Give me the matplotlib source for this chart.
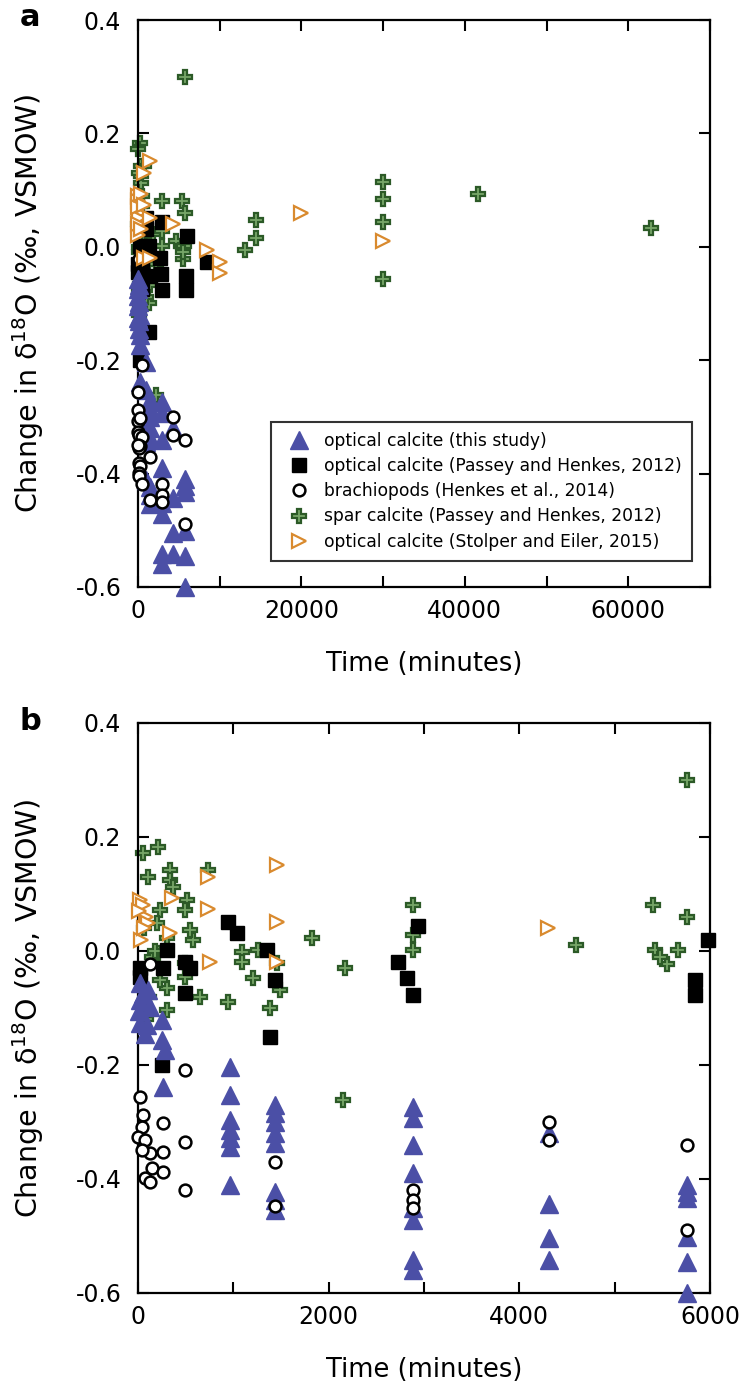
import matplotlib
matplotlib.use("Agg")
import matplotlib.pyplot as plt
from matplotlib.ticker import MultipleLocator, FuncFormatter

plt.rcParams['font.family'] = ['DejaVu Sans']

# optical calcite (this study)
tri_x = [20, 105, 20, 126, 20, 248, 73, 248, 283, 266, 50, 10, 90,
         965, 965, 965, 965, 965, 965, 965,
         1437, 1437, 1437, 1437, 1437, 1437, 1437, 1437,
         2888, 2888, 2888, 2888, 2888, 2888, 2888, 2888,
         4315, 4315, 4315, 4315,
         5755, 5755, 5755, 5755, 5755, 5755]
tri_y = [-0.056, -0.068, -0.086, -0.098, -0.126, -0.121, -0.145, -0.156, -0.174, -0.238, -0.075, -0.105, -0.13,
         -0.203, -0.253, -0.297, -0.314, -0.328, -0.344, -0.411,
         -0.27, -0.284, -0.30, -0.319, -0.337, -0.423, -0.437, -0.454,
         -0.273, -0.293, -0.34, -0.39, -0.451, -0.472, -0.542, -0.56,
         -0.32, -0.443, -0.504, -0.542,
         -0.41, -0.422, -0.433, -0.501, -0.545, -0.60]

# optical calcite (Passey and Henkes, 2012)
sq_x = [20, 20, 301, 265, 493, 545, 493, 248, 948, 1035, 1350, 1437, 1385,
        2940, 2731, 2818, 2888, 5983, 5838, 5838, 8400]
sq_y = [-0.03, -0.045, 0.002, -0.03, -0.02, -0.03, -0.074, -0.2, 0.051, 0.031, 0.002, -0.051, -0.15,
        0.043, -0.019, -0.048, -0.077, 0.019, -0.051, -0.077, -0.026]

# brachiopods (Henkes et al., 2014)
circ_x = [126, 493, 21, 56, 38, 266, 3, 73, 493, 266, 126, 38, 143, 266, 73, 126, 493,
          1437, 1437, 2888, 2888, 2888, 4315, 4315, 5755, 5755]
circ_y = [-0.022, -0.209, -0.256, -0.288, -0.308, -0.302, -0.326, -0.332, -0.335, -0.352, -0.355, -0.349,
          -0.381, -0.387, -0.399, -0.405, -0.419,
          -0.37, -0.447, -0.419, -0.437, -0.45, -0.30, -0.332, -0.34, -0.489]

# spar calcite (Passey and Henkes, 2012)
spar_x = [213, 56, 336, 336, 738, 370, 510, 493, 231, 580, 545, 301, 210, 1088, 1088, 1262, 1210,
          1490, 1385, 948, 650, 493, 493, 301, 301, 231, 1822, 1455, 2171, 2888, 2888, 2888, 2154,
          5405, 5755, 4594, 5423, 5546, 5668, 5476, 5755,
          100, 60, 150, 120, 80, 200, 180,
          14500, 14500, 13100, 30000, 30000, 30000, 30000, 41660, 62800]
spar_y = [0.183, 0.172, 0.142, 0.125, 0.142, 0.112, 0.089, 0.072, 0.072, 0.019, 0.037, 0.023, -0.004,
          -0.001, -0.019, 0.002, -0.048, -0.068, -0.1, -0.089, -0.08, -0.021, -0.045, -0.103, -0.065,
          -0.051, 0.022, -0.021, -0.03, 0.081, 0.028, 0.002, -0.261,
          0.081, 0.06, 0.011, 0.002, -0.022, 0.002, -0.01, 0.30,
          0.13, 0.04, -0.01, -0.08, -0.12, 0.05, 0.0,
          0.047, 0.015, -0.006, 0.115, 0.084, 0.044, -0.056, 0.094, 0.034]

# optical calcite (Stolper and Eiler, 2015)
se_x = [20, 50, 80, 100, 30, 60, 10, 353, 336, 738, 738, 755, 1455, 1455, 1455,
        4305, 8400, 10000, 10000, 20000, 30000]
se_y = [0.09, 0.08, 0.06, 0.05, 0.02, 0.04, 0.07, 0.093, 0.032, 0.13, 0.074, -0.019, 0.151, 0.051, -0.019,
        0.04, -0.006, -0.026, -0.047, 0.06, 0.01]

labels = ['optical calcite (this study)',
          'optical calcite (Passey and Henkes, 2012)',
          'brachiopods (Henkes et al., 2014)',
          'spar calcite (Passey and Henkes, 2012)',
          'optical calcite (Stolper and Eiler, 2015)']

fig = plt.figure(figsize=(7.4, 13.88), dpi=100)
ax_a = fig.add_axes([138 / 740, 1 - 587 / 1388, 572 / 740, 567 / 1388])
ax_b = fig.add_axes([138 / 740, 1 - 1293 / 1388, 572 / 740, 570 / 1388])


def keep(xs, ys, xmax):
    pairs = [(x, y) for x, y in zip(xs, ys) if x <= xmax]
    return [p[0] for p in pairs], [p[1] for p in pairs]


def draw(ax, xmax):
    x, y = keep(spar_x, spar_y, xmax)
    h_spar, = ax.plot(x, y, 'P', ms=10, mfc='#79a86a', mec='#2c5a27', mew=1.6,
                      ls='none', zorder=2, clip_on=False)
    x, y = keep(sq_x, sq_y, xmax)
    h_sq, = ax.plot(x, y, 's', ms=10, mfc='black', mec='black', ls='none', zorder=3, clip_on=False)
    x, y = keep(tri_x, tri_y, xmax)
    h_tri, = ax.plot(x, y, '^', ms=12.5, mfc='#4b4fa6', mec='#4b4fa6', ls='none', zorder=3.5,
                     clip_on=False)
    x, y = keep(circ_x, circ_y, xmax)
    h_circ, = ax.plot(x, y, 'o', ms=8.5, mfc='white', mec='black', mew=1.8, ls='none',
                      zorder=4, clip_on=False)
    x, y = keep(se_x, se_y, xmax)
    h_se, = ax.plot(x, y, '>', ms=10, mfc='white', mec='#d98a2e', mew=1.6, ls='none', zorder=5,
                    clip_on=False)
    ax.set_xlim(0, xmax)
    ax.set_ylim(-0.6, 0.4)
    ax.yaxis.set_major_locator(MultipleLocator(0.2))
    ax.yaxis.set_major_formatter(FuncFormatter(lambda v, p: '%.1f' % v))
    ax.tick_params(which='both', direction='in', top=True, right=True, length=8, width=1.5,
                   labelsize=17)
    ax.tick_params(axis='y', pad=12)
    ax.tick_params(axis='x', pad=9)
    for s in ax.spines.values():
        s.set_linewidth(1.6)
    ax.set_ylabel(r'Change in δ$^{18}$O (‰, VSMOW)', fontsize=20.5)
    ax.yaxis.set_label_coords(-0.16, 0.5)
    ax.set_xlabel('Time (minutes)', fontsize=18.5)
    ax.xaxis.set_label_coords(0.5, -0.112)
    return [h_tri, h_sq, h_circ, h_spar, h_se]


handles = draw(ax_a, 70000)
ax_a.xaxis.set_major_locator(MultipleLocator(20000))
ax_a.xaxis.set_minor_locator(MultipleLocator(10000))
leg = ax_a.legend(handles, labels, loc='lower right', bbox_to_anchor=(0.969, 0.046),
                  borderaxespad=0, fontsize=12.3, frameon=True, fancybox=False,
                  handletextpad=0.5, labelspacing=0.42, borderpad=0.6)
leg.get_frame().set_edgecolor('black')
leg.get_frame().set_linewidth(1.5)

draw(ax_b, 6000)
ax_b.xaxis.set_major_locator(MultipleLocator(2000))
ax_b.xaxis.set_minor_locator(MultipleLocator(1000))

fig.text(30 / 740, 1 - 17 / 1388, 'a', fontsize=22, fontweight='bold', ha='center', va='center')
fig.text(30 / 740, 1 - 722 / 1388, 'b', fontsize=22, fontweight='bold', ha='center', va='center')

fig.savefig('out.png', dpi=100, facecolor='white')
